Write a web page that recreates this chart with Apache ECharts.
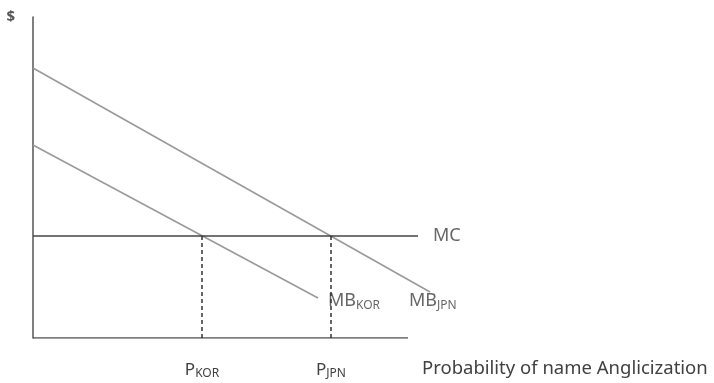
<!DOCTYPE html>
<html><head><meta charset="utf-8">
<script src="https://cdn.jsdelivr.net/npm/echarts@6/dist/echarts.min.js"></script>
<style>html,body{margin:0;padding:0;background:#fff}#c{width:714px;height:383px}</style>
</head><body><div id="c"></div>
<script>
// Conceptual diagram: x = probability of name anglicization, y = $ (arbitrary units)
const mbJpnX = [0, 397];
const mbJpnY = [270, 46];
const mbKorX = [0, 285];
const mbKorY = [193, 40];
const mcX = [0, 385];
const mcY = [102, 102];
const baseX = [0, 375];
const baseY = [0, 0];
const pKor = 169;
const pJpn = 298;
const tickLabels = ['P{s|KOR}', 'P{s|JPN}'];
const xTitle = 'Probability of name Anglicization';
const yTitle = '$';

const FONT = '"Noto Sans", sans-serif';
const TXT = '#404040';
const zip = (xs, ys) => xs.map((x, i) => [x, ys[i]]);
const chart = echarts.init(document.getElementById('c'));
const subRich = {
  a: {fontSize: 18, color: TXT, fontFamily: FONT},
  s: {fontSize: 12, color: TXT, fontFamily: FONT, padding: [9, 0, 0, 0]}
};
chart.setOption({
  animation: false,
  grid: {left: 33, top: 17, width: 400, height: 321},
  xAxis: {
    type: 'value', min: 0, max: 400,
    splitLine: {show: false},
    axisTick: {show: false},
    axisLine: {show: false},
    axisLabel: {
      customValues: [pKor, pJpn], margin: 23,
      formatter: v => v === pKor ? tickLabels[0] : tickLabels[1],
      rich: {s: {fontSize: 12, color: TXT, fontFamily: FONT, padding: [7, 0, 0, 0]}},
      fontSize: 17, color: TXT, fontFamily: FONT
    },
    name: xTitle, nameLocation: 'end', nameGap: -11,
    nameTextStyle: {fontSize: 18.5, color: TXT, fontFamily: FONT, verticalAlign: 'top', padding: [21, 0, 0, 0]}
  },
  yAxis: {
    type: 'value', min: 0, max: 321,
    splitLine: {show: false},
    axisTick: {show: false},
    axisLabel: {show: false},
    axisLine: {lineStyle: {color: '#555', width: 1.5}},
    name: yTitle, nameLocation: 'end', nameGap: 0,
    nameTextStyle: {fontSize: 15, fontWeight: 'bold', color: '#555', fontFamily: FONT, align: 'right', padding: [0, 18, 0, 0], verticalAlign: 'middle'}
  },
  series: [
    {type: 'line', data: zip(baseX, baseY), symbol: 'none',
     lineStyle: {color: '#555', width: 1.5}},
    {type: 'line', data: zip(mbJpnX, mbJpnY), symbol: 'none',
     lineStyle: {color: '#9a9a9a', width: 1.6}},
    {type: 'line', data: zip(mbKorX, mbKorY), symbol: 'none',
     lineStyle: {color: '#9a9a9a', width: 1.6}},
    {type: 'line', data: zip(mcX, mcY), symbol: 'none',
     lineStyle: {color: '#444', width: 1.5}},
    {type: 'line', data: [[pKor, 0], [pKor, mcY[0]]], symbol: 'none',
     lineStyle: {color: '#333', width: 1.5, type: [4, 3]}},
    {type: 'line', data: [[pJpn, 0], [pJpn, mcY[0]]], symbol: 'none',
     lineStyle: {color: '#333', width: 1.5, type: [4, 3]}},
    {type: 'scatter', symbolSize: 0,
     data: [
       {value: [400, 102], name: '{a|MC}'},
       {value: [295, 37], name: '{a|MB}{s|KOR}'},
       {value: [376, 37], name: '{a|MB}{s|JPN}'}
     ],
     label: {show: true, position: 'right', distance: 0, formatter: p => p.name, rich: subRich}}
  ]
});
</script></body></html>
